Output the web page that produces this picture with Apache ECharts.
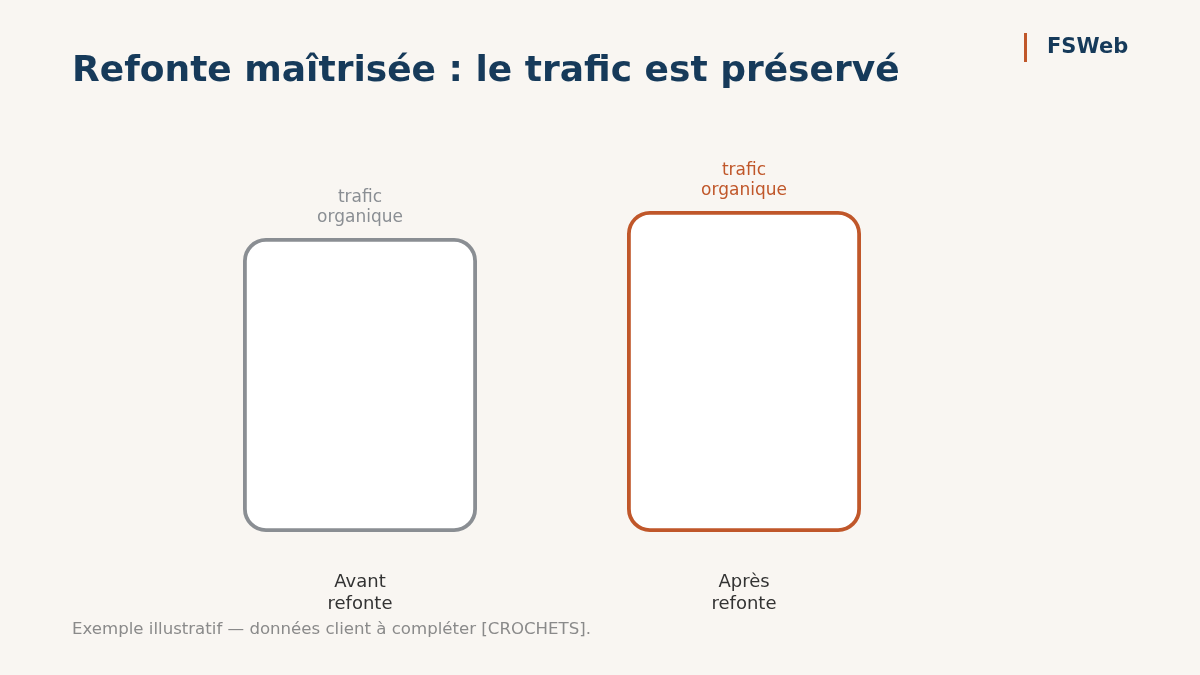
<!DOCTYPE html>
<html><head><meta charset="utf-8">
<script src="https://cdn.jsdelivr.net/npm/echarts@6/dist/echarts.min.js"></script>
<style>html,body{margin:0;padding:0;background:#f9f6f2;}#c{width:1200px;height:675px;}</style>
</head><body><div id="c"></div>
<script>
const categories = ['Avant\nrefonte', 'Après\nrefonte'];
const values = [100, 109.2];
const barLabels = ['trafic\norganique', 'trafic\norganique'];
const borderColors = ['#8a8e93', '#c0572a'];
const labelColors = ['#8a8e93', '#c0572a'];

const FONT = '"DejaVu Sans", sans-serif';
const chart = echarts.init(document.getElementById('c'), null, {renderer: 'canvas'});
chart.setOption({
  backgroundColor: '#f9f6f2',
  animation: false,
  textStyle: {fontFamily: FONT},
  title: {
    text: 'Refonte maîtrisée : le trafic est préservé',
    left: 72, top: 54, padding: 0,
    textStyle: {fontFamily: FONT, fontSize: 36, fontWeight: 'bold', color: '#163a5a'}
  },
  graphic: [
    {type: 'rect', shape: {x: 1024, y: 33, width: 3, height: 29}, style: {fill: '#c0572a'}},
    {type: 'text', left: 1047, top: 37, style: {text: 'FSWeb', font: 'bold 21px ' + FONT, fill: '#163a5a'}},
    {type: 'text', left: 72, top: 621, style: {text: 'Exemple illustratif — données client à compléter [CROCHETS].', font: '16.6px ' + FONT, fill: '#8a8a8a'}}
  ],
  grid: {left: 168, right: 1200 - 936, top: 532 - 294 * 1.2, bottom: 675 - 532},
  xAxis: {
    type: 'category', data: categories,
    axisLine: {show: false}, axisTick: {show: false},
    axisLabel: {fontFamily: FONT, fontSize: 18, color: '#333333', lineHeight: 22, margin: 39}
  },
  yAxis: {type: 'value', min: 0, max: 120, show: false, splitLine: {show: false}},
  series: [{
    type: 'bar', barWidth: 234,
    data: values.map((v, i) => ({
      value: v,
      itemStyle: {color: '#ffffff', borderColor: borderColors[i], borderWidth: 3.8, borderRadius: 21},
      label: {show: true, position: 'top', distance: 10, formatter: barLabels[i],
        fontFamily: FONT, fontSize: 17, lineHeight: 20, color: labelColors[i]}
    }))
  }]
});
</script></body></html>
